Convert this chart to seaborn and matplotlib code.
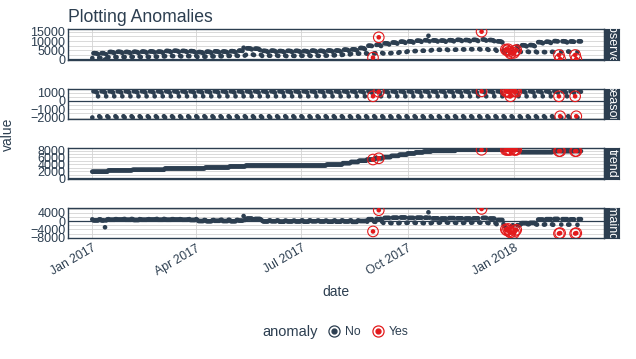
import numpy as np
import pandas as pd
import seaborn as sns
import matplotlib.pyplot as plt
import matplotlib.dates as mdates
from matplotlib.lines import Line2D
from matplotlib.legend_handler import HandlerTuple
from matplotlib.ticker import MultipleLocator, FixedLocator

# --- data (daily series, Jan 2017 - Feb 2018) ---
start_date, end_date = "2017-01-01", "2018-02-28"

# weekly seasonal component, Mon..Sun
season_dow = [1150, 1200, 1100, 1000, 550, -1850, -2000]

# trend, one value per week (week 0 starts 2017-01-01)
trend_wk = [1900, 1900, 2260, 2260, 2260, 2450, 2450, 2450, 2450, 2820,
            2820, 2820, 2820, 2820, 3100, 3100, 3100, 3400, 3400, 3670,
            3670, 3670, 3670, 3670, 3670, 3670, 3670, 3670, 3670, 3950,
            3950, 4350, 4700, 5050, 5400, 5750, 6100, 6450, 6800, 7150,
            7450, 7700, 7900, 7900, 7900, 8200, 8200, 8200, 8200, 8200,
            8200, 8200, 8200, 7540, 7540, 7540, 7540, 7820, 7820, 7820,
            7820]

# remainder per week, weekdays / weekend days
rem_weekday = [300, 300, 600, 700, 600, 500, 600, 700, 600, 600,
               700, 600, 500, 0, -100, 100, 0, -100, 200, 1200,
               1000, -200, -100, -300, -200, -200, -300, -100, -200, -300,
               -300, -200, -400, 0, 900, 1000, 1500, 1600, 1700, 1500,
               1600, 1600, 1300, 1200, 1400, 1300, 1200, 1300, 1500, 1200,
               500, -2500, -2000, -1000, -900, 700, 900, 1000, 900, 800,
               900]
rem_weekend = [800, 800, 900, 900, 1000, 900, 800, 900, 1000, 900,
               900, 800, 900, 500, 400, 500, 600, 500, 500, 800,
               700, 200, 300, 200, 100, 200, 300, 200, 200, 100,
               300, 200, 300, 100, -300, -400, -900, -1000, -900, -800,
               -900, -1000, -800, -700, -800, -900, -800, -700, -800, -1000,
               -1500, -2500, -2000, -1500, -1500, -1700, -1600, -1800, -1700, -1700,
               -1800]

# single days that stand out without being flagged
spike_dates = ["2017-01-12", "2017-05-12", "2017-10-19"]
spike_rem = [-3000, 2400, 4200]

# flagged anomalies and their remainder
anomaly_dates = ["2017-09-01", "2017-09-06", "2017-12-04", "2017-12-25", "2017-12-26",
                 "2017-12-27", "2017-12-28", "2017-12-29", "2018-01-01", "2018-01-02",
                 "2018-01-03", "2018-02-09", "2018-02-10", "2018-02-23", "2018-02-24"]
anomaly_rem = [-5000, 5200, 5800, -4000, -4500, -3800, -5000, -5500, -5800, -4800,
               -4200, -6000, -5800, -6000, -5800]

keys = ["observed", "season", "trend", "remainder"]
navy = "#2c3e50"
red = "#e31a1c"

# --- build the decomposition table ---
dates = pd.date_range(start_date, end_date, freq="D")
week = (dates - dates[0]).days // 7
dow = dates.dayofweek
trend = np.array(trend_wk, dtype=float)[week]
season = np.array(season_dow, dtype=float)[dow]
rem = pd.Series(np.where(dow < 5, np.array(rem_weekday)[week], np.array(rem_weekend)[week]).astype(float),
                index=dates)
rem[pd.to_datetime(spike_dates)] = spike_rem
rem[pd.to_datetime(anomaly_dates)] = anomaly_rem
anomaly = np.where(dates.isin(pd.to_datetime(anomaly_dates)), "Yes", "No")

df = pd.DataFrame({"date": dates, "observed": trend + season + rem.values, "season": season,
                   "trend": trend, "remainder": rem.values, "anomaly": anomaly})
long = df.melt(id_vars=["date", "anomaly"], value_vars=keys, var_name="key", value_name="value")
long = long.sort_values("anomaly")

# --- plot ---
sns.set_style("white")
plt.rcParams["font.family"] = ["Liberation Sans", "DejaVu Sans"]

fig, axes = plt.subplots(4, 1, figsize=(6.36, 3.59), dpi=100, sharex=True)
fig.subplots_adjust(left=0.107, right=0.9497, top=0.9192, bottom=0.3362, hspace=0.947)

ylims = {"observed": (-150, 16600), "season": (-2200, 1480),
         "trend": (-140, 8680), "remainder": (-8300, 6400)}
yticks = {"observed": [0, 5000, 10000, 15000], "season": [-2000, -1000, 0, 1000],
          "trend": [0, 2000, 4000, 6000, 8000], "remainder": [-8000, -4000, 0, 4000]}

for ax, key in zip(axes, keys):
    sub = long[long.key == key]
    ax.axhline(0, color=navy, lw=0.9, zorder=2)
    sns.scatterplot(data=sub, x="date", y="value", hue="anomaly", hue_order=["No", "Yes"],
                    palette={"No": navy, "Yes": red}, s=11, linewidth=0, legend=False,
                    ax=ax, zorder=3)
    yes = sub[sub.anomaly == "Yes"]
    ax.scatter(yes["date"], yes["value"], s=58, facecolors="none", edgecolors=red,
               linewidths=0.8, zorder=4)
    ax.set_ylim(*ylims[key])
    ax.yaxis.set_major_locator(FixedLocator(yticks[key]))
    step = yticks[key][1] - yticks[key][0]
    ax.yaxis.set_minor_locator(MultipleLocator(step / 2))
    ax.grid(True, which="both", axis="y", color="#d3d3d3", lw=0.6, zorder=0)
    ax.grid(True, which="major", axis="x", color="#d3d3d3", lw=0.6, zorder=0)
    ax.set_axisbelow(True)
    ax.set_xlabel("")
    ax.set_ylabel("")
    ax.tick_params(axis="both", which="both", length=0, labelsize=9, labelcolor=navy, pad=2)
    for sp in ax.spines.values():
        sp.set_color(navy)
        sp.set_linewidth(1.0)

    # facet strip on the right
    pos = ax.get_position()
    sax = fig.add_axes([pos.x1, pos.y0, 15 / 636, pos.height])
    sax.set_facecolor(navy)
    sax.set_xticks([])
    sax.set_yticks([])
    for sp in sax.spines.values():
        sp.set_color(navy)
    sax.text(0.5, 0.5, key, rotation=-90, color="white", ha="center", va="center",
             fontsize=9, transform=sax.transAxes, clip_on=True)

axes[-1].set_xlim(pd.Timestamp("2016-12-11"), pd.Timestamp("2018-03-20"))
axes[-1].xaxis.set_major_locator(mdates.MonthLocator(bymonth=[1, 4, 7, 10]))
axes[-1].xaxis.set_major_formatter(mdates.DateFormatter("%b %Y"))
axes[-1].tick_params(axis="x", labelsize=8.8, pad=3)
plt.setp(axes[-1].get_xticklabels(), rotation=30, ha="right", rotation_mode="anchor")

fig.text(68 / 636, 1 - 17 / 359, "Plotting Anomalies", fontsize=12.7, color=navy,
         ha="left", va="center")
fig.text(8 / 636, 1 - 134 / 359, "value", rotation=90, fontsize=10, color=navy,
         ha="center", va="center")
fig.text(336 / 636, 1 - 292 / 359, "date", fontsize=10, color=navy, ha="center", va="center")

# legend at the bottom
fig.text(290 / 636, 1 - 332 / 359, "anomaly", fontsize=10.5, color=navy, ha="center", va="center")
handles = []
for c in [navy, red]:
    dot = Line2D([], [], ls="", marker="o", ms=3.5, color=c, mec=c)
    ring = Line2D([], [], ls="", marker="o", ms=8, mfc="none", mec=c, mew=0.9)
    handles.append((dot, ring))
fig.legend(handles, ["No", "Yes"], handler_map={tuple: HandlerTuple(ndivide=1)},
           ncol=2, loc="center left", bbox_to_anchor=(322 / 636, 1 - 332 / 359),
           frameon=False, fontsize=8.8, labelcolor=navy, handlelength=1.0,
           handletextpad=0.4, columnspacing=0.9, borderpad=0)

fig.savefig("out.png", dpi=100)
